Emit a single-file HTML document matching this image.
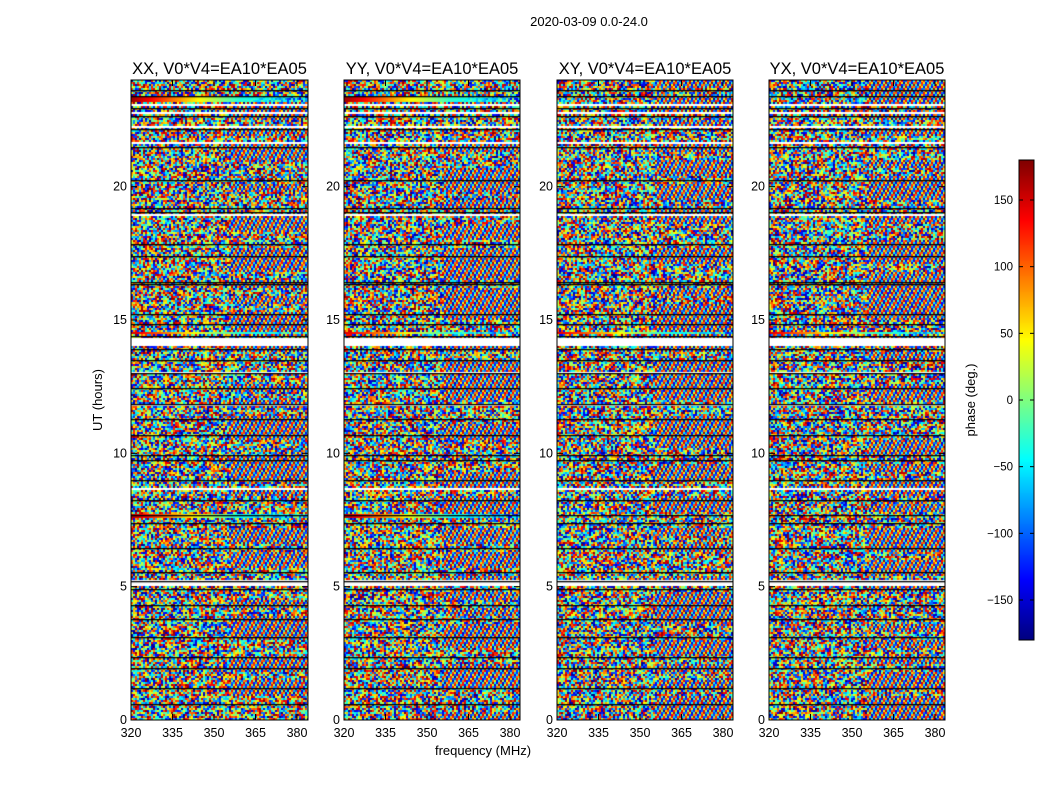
<!DOCTYPE html>
<html><head><meta charset="utf-8">
<style>
body{margin:0;background:#fff;font-family:"Liberation Sans","DejaVu Sans",sans-serif;}
#wrap{position:relative;width:1050px;height:800px;overflow:hidden;background:#fff}
canvas{position:absolute}
svg{position:absolute;left:0;top:0}
</style></head>
<body>
<div id="wrap">
<canvas id="c0" width="177" height="640" style="left:131px;top:80px"></canvas>
<canvas id="c1" width="176" height="640" style="left:344px;top:80px"></canvas>
<canvas id="c2" width="176" height="640" style="left:557px;top:80px"></canvas>
<canvas id="c3" width="176" height="640" style="left:769px;top:80px"></canvas>
<canvas id="cb" width="15" height="480" style="left:1019px;top:160px"></canvas>
<svg id="ov" width="1050" height="800"></svg>
</div>
<script>
// ---- data ----
const panelTitles = ["XX, V0*V4=EA10*EA05","YY, V0*V4=EA10*EA05","XY, V0*V4=EA10*EA05","YX, V0*V4=EA10*EA05"];
const panelLeft = [131,344,557,769];
const panelRight = [308,520,733,945];
const xTicks = [320,335,350,365,380];
const yTicks = [0,5,10,15,20];
const cbTicks = [-150,-100,-50,0,50,100,150];
// flagged (white) time ranges in hours [start,end]
const flagStart = [14.06,5.05,4.78,8.65,7.4,13.0,18.9,21.6,22.2,22.75,23.05,15.2,11.8,3.5,2.9,16.4,19.1];
const flagEnd   = [14.36,5.22,4.83,8.72,7.45,13.05,18.95,21.65,22.27,22.8,23.1,15.25,11.85,3.55,2.95,16.45,19.15];
// black separator lines (hours)
const blackLines = [23.62,23.4,22.95,22.65,22.15,21.5,20.24,19.2,19.05,17.85,17.4,16.42,16.35,15.22,14.85,14.4,13.9,13.5,13.0,12.45,11.85,11.3,10.7,9.95,9.75,9.0,8.25,7.7,7.4,6.45,5.55,5.2,4.9,4.3,3.8,3.1,2.35,1.95,1.2,0.6];
// smooth phase-wrap bands: hour, half-width (hours), start phase, end phase
const smoothHour = [23.3,7.65,5.1,14.5];
const smoothWidth = [0.12,0.08,0.1,0.05];
const smoothFrom = [170,160,170,150];
const smoothTo = [-160,-170,-150,-150];
const cbRange = [-180,180];

// ---- helpers ----
function jet(v){
  const f=(x)=>Math.max(0,Math.min(1,x));
  const r=f(1.5-Math.abs(4*v-3)), g=f(1.5-Math.abs(4*v-2)), b=f(1.5-Math.abs(4*v-1));
  return [Math.round(r*255),Math.round(g*255),Math.round(b*255)];
}
function hash(a,b,c){let h=(a*374761393+b*668265263+c*2147483647)|0;h=(h^(h>>>13))*1274126177|0;h^=h>>>16;return ((h>>>0)%10000)/10000;}
const y0=720, pxPerHour=(720-80)/24;
function yOf(h){return y0-h*pxPerHour;}

// ---- heatmaps ----
for(let p=0;p<4;p++){
  const cv=document.getElementById('c'+p), ctx=cv.getContext('2d');
  const W=cv.width,H=cv.height;
  const img=ctx.createImageData(W,H);
  const cw=2, ch=2;
  for(let r=0;r<H/ch;r++){
    const hour=24-(r*ch+1)/pxPerHour;
    let flag=false;
    for(let i=0;i<flagStart.length;i++) if(hour>=flagStart[i]&&hour<=flagEnd[i]) flag=true;
    let sm=-1;
    for(let i=0;i<smoothHour.length;i++) if(Math.abs(hour-smoothHour[i])<=smoothWidth[i]) sm=i;
    for(let c=0;c<W/cw;c++){
      let col;
      if(flag) col=[255,255,255];
      else if(sm>=0 && (p<2 || sm>=3)){
        const t=c/(W/cw);
        let ph=smoothFrom[sm]+(smoothTo[sm]-smoothFrom[sm])*t;
        if(t>0.6) ph+=hash(r,c,p)*120*(t-0.6)*4;
        ph=((ph+180)%360+360)%360-180;
        col=jet((ph-cbRange[0])/(cbRange[1]-cbRange[0]));
      } else {
        const t=c/(W/cw);
        let v;
        if(t>0.55 && hash(r>>2,7,p)>0.4){
          v=(Math.sin(c*1.7+r*0.9+p)+1)/2*0.85+hash(r,c,p+9)*0.15;
        } else v=hash(r,c,p);
        col=jet(v);
      }
      for(let dy=0;dy<ch;dy++)for(let dx=0;dx<cw;dx++){
        const x=c*cw+dx,y=r*ch+dy; if(x>=W||y>=H)continue;
        const k=(y*W+x)*4; img.data[k]=col[0];img.data[k+1]=col[1];img.data[k+2]=col[2];img.data[k+3]=255;
      }
    }
  }
  ctx.putImageData(img,0,0);
  ctx.fillStyle='#000';
  blackLines.forEach(h=>{ctx.fillRect(0,Math.round(yOf(h)-80),W,1.3);});
}
(function(){
  const cv=document.getElementById('cb'),ctx=cv.getContext('2d');
  for(let y=0;y<480;y++){const c=jet(1-y/479);ctx.fillStyle=`rgb(${c[0]},${c[1]},${c[2]})`;ctx.fillRect(0,y,15,1);}
})();

// ---- axes overlay ----
const NS='http://www.w3.org/2000/svg', ov=document.getElementById('ov');
function el(tag,attrs,text){const e=document.createElementNS(NS,tag);for(const k in attrs)e.setAttribute(k,attrs[k]);if(text!==undefined)e.textContent=text;ov.appendChild(e);return e;}
function xOf(p,f){return panelLeft[p]+(f-320)*(297-131)/60;}
let t=el('text',{x:589,y:26,'font-size':13,'text-anchor':'middle'},'2020-03-09 0.0-24.0');


for(let p=0;p<4;p++){
  const L=panelLeft[p],R=panelRight[p];
  let r=el('rect',{x:L,y:80,width:R-L,height:640,fill:'none',stroke:'#000','stroke-width':1});
  
  
  let tt=el('text',{x:(L+R)/2,y:74,'font-size':16.5,'text-anchor':'middle'},panelTitles[p]);
  
  
  xTicks.forEach(f=>{
    const x=xOf(p,f);
    el('line',{x1:x,x2:x,y1:720,y2:714,stroke:'#000'});
    el('line',{x1:x,x2:x,y1:80,y2:86,stroke:'#000'});
    const lb=el('text',{x:x,y:737,'font-size':12.5,'text-anchor':'middle'},String(f));
    
    
  });
  yTicks.forEach(h=>{
    const y=yOf(h);
    el('line',{x1:L,x2:L+6,y1:y,y2:y,stroke:'#000'});
    el('line',{x1:R,x2:R-6,y1:y,y2:y,stroke:'#000'});
    const lb=el('text',{x:L-4,y:y+4,'font-size':12.5,'text-anchor':'end'},String(h));
    
    
  });
}
t=el('text',{x:483,y:755,'font-size':13,'text-anchor':'middle'},'frequency (MHz)');


t=el('text',{x:102,y:400,'font-size':13,'text-anchor':'middle',transform:'rotate(-90 102 400)'},'UT (hours)');


el('rect',{x:1019,y:160,width:15,height:480,fill:'none',stroke:'#000'});
cbTicks.forEach(v=>{
  const y=160+(cbRange[1]-v)*480/(cbRange[1]-cbRange[0]);
  el('line',{x1:1019,x2:1023,y1:y,y2:y,stroke:'#000'});
  el('line',{x1:1030,x2:1034,y1:y,y2:y,stroke:'#000'});
  const lb=el('text',{x:1013,y:y+4,'font-size':11.5,'text-anchor':'end'},v<0?'\u2212'+Math.abs(v):String(v));
  
  
});
t=el('text',{x:975,y:400,'font-size':13,'text-anchor':'middle',transform:'rotate(-90 975 400)'},'phase (deg.)');


</script>
</body></html>
